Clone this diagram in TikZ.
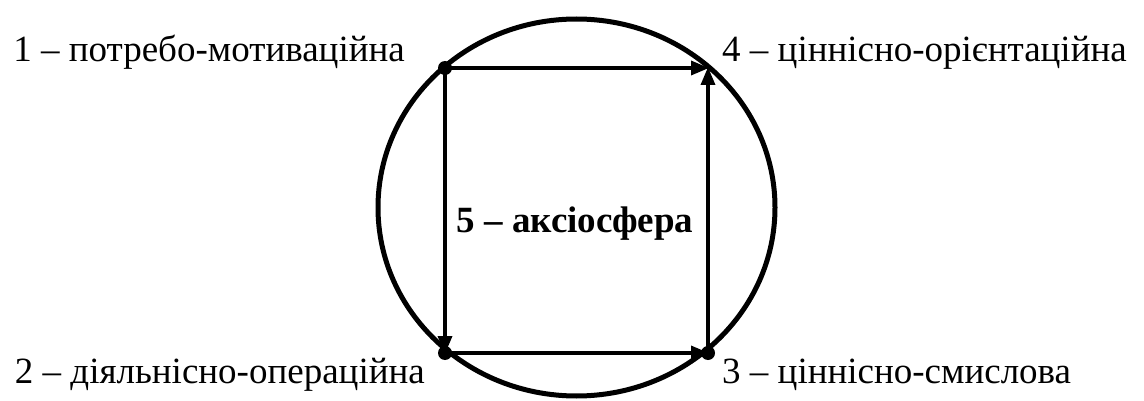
\documentclass[tikz,border=0pt]{standalone}
\usepackage{fontspec}
\setmainfont{Liberation Serif}
\usetikzlibrary{arrows.meta}
\begin{document}
\begin{tikzpicture}[x=1pt,y=-1pt,
  lbl/.style={font=\fontsize{37}{42}\selectfont, inner sep=0pt},
  conn/.style={line width=3.4pt, -{Triangle[length=18pt,width=14pt]}, shorten >=-1pt},
  dot/.style={circle, fill=black, minimum size=14pt, inner sep=0pt}]
\useasboundingbox (0,0) rectangle (1144,401);
\draw[line width=5pt] (576.5,207.5) ellipse [x radius=198.5, y radius=188.5];
\node[dot] (n1) at (445,68) {};
\node[dot] (n2) at (445,353) {};
\node[dot] (n3) at (708,353) {};
\coordinate (n4) at (708,68);
\draw[conn] (n1.center) -- (n4);
\draw[conn] (n1.center) -- (n2.center);
\draw[conn] (n2.center) -- (n3.center);
\draw[conn] (n3.center) -- (n4);
\node[lbl, anchor=base east] (t1) at (405,62) {1 – потребо-мотиваційна};
\node[lbl, anchor=base west] (t4) at (722,62) {4 – ціннісно-орієнтаційна};
\node[lbl, anchor=base east] (t2) at (425,383) {2 – діяльнісно-операційна};
\node[lbl, anchor=base west] (t3) at (722,383) {3 – ціннісно-смислова};
\node[lbl, anchor=base, font=\fontsize{37}{42}\selectfont\bfseries] (t5) at (575,233) {5 – аксіосфера};
\end{tikzpicture}
\end{document}
